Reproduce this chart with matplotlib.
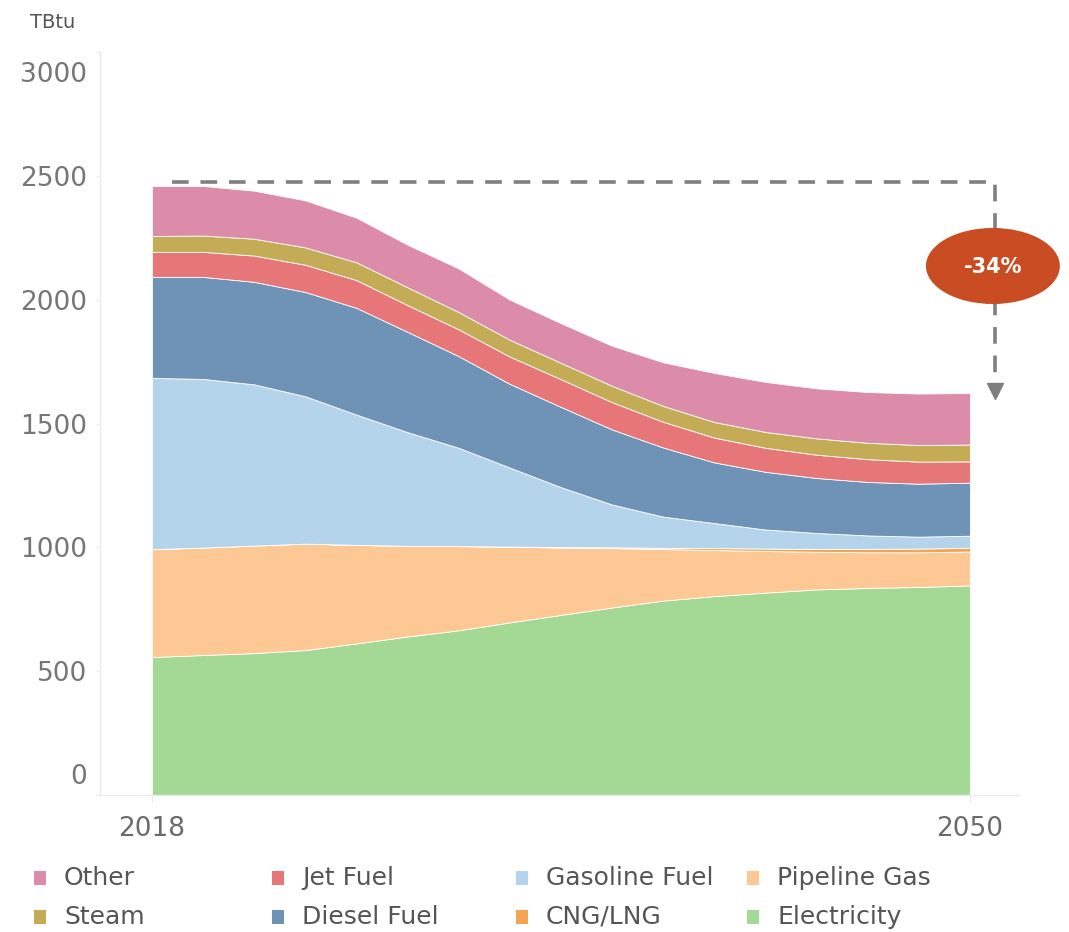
import matplotlib
matplotlib.use('Agg')
import matplotlib.pyplot as plt
import matplotlib.patches as patches
from matplotlib.transforms import ScaledTranslation
import numpy as np

years = list(range(2018, 2051, 2))

electricity = [557, 565, 573, 585, 612, 640, 665, 697, 727, 757, 785, 803, 817, 830, 836, 840, 846]
pipeline_gas = [436, 434, 434, 430, 398, 366, 340, 306, 272, 240, 208, 186, 168, 152, 144, 140, 137]
cng_lng = [0, 0, 0, 0, 0, 0, 0, 0, 2, 3, 5, 8, 10, 12, 14, 15, 15]
gasoline_fuel = [691, 681, 651, 595, 526, 459, 397, 319, 242, 173, 126, 101, 77, 64, 54, 48, 49]
diesel_fuel = [408, 412, 414, 421, 431, 405, 370, 338, 324, 303, 279, 245, 233, 222, 216, 214, 214]
jet_fuel = [101, 101, 106, 110, 112, 108, 108, 110, 112, 110, 104, 100, 97, 94, 92, 89, 86]
steam = [64, 66, 68, 70, 72, 72, 70, 68, 66, 66, 64, 63, 64, 66, 66, 67, 68]
other = [202, 200, 194, 190, 180, 172, 176, 162, 160, 162, 176, 198, 202, 202, 205, 208, 208]

series_names = ['Electricity', 'Pipeline Gas', 'CNG/LNG', 'Gasoline Fuel',
                'Diesel Fuel', 'Jet Fuel', 'Steam', 'Other']
series_colors = ['#a3d995', '#fec895', '#f5a455', '#b3d4ea',
                 '#6f93b7', '#e77678', '#c4ab55', '#dc8ca9']

y_ticks = [0, 500, 1000, 1500, 2000, 2500, 3000]
x_ticks = [2018, 2050]
change_label = '-34%'

legend_rows = [['Other', 'Jet Fuel', 'Gasoline Fuel', 'Pipeline Gas'],
               ['Steam', 'Diesel Fuel', 'CNG/LNG', 'Electricity']]

W, H = 1069, 932
plt.rcParams['lines.scale_dashes'] = False

fig = plt.figure(figsize=(W / 100, H / 100), dpi=100)
ax = fig.add_axes([100 / W, 137 / H, 920 / W, 743 / H])

ax.stackplot(years, electricity, pipeline_gas, cng_lng, gasoline_fuel,
             diesel_fuel, jet_fuel, steam, other,
             colors=series_colors, edgecolor='white', linewidth=0.6)

ax.set_xlim(2015.97, 2051.96)
ax.set_ylim(0, 3000)

for side in ['top', 'right']:
    ax.spines[side].set_visible(False)
for side in ['left', 'bottom']:
    ax.spines[side].set_color('#ebebeb')
    ax.spines[side].set_linewidth(1)

ax.set_yticks(y_ticks)
ax.set_yticklabels([str(v) for v in y_ticks])
ax.set_xticks(x_ticks)
ax.set_xticklabels([str(v) for v in x_ticks])
ax.tick_params(axis='y', length=3, width=1, color='#ebebeb', pad=6,
               labelsize=19, labelcolor='#767676')
ax.tick_params(axis='x', length=5, width=1, color='#ebebeb', pad=10,
               labelsize=19, labelcolor='#6b6b6b')

# tableau nudges the end labels inside the axis range
ylabels = ax.get_yticklabels()
ylabels[0].set_transform(ylabels[0].get_transform() + ScaledTranslation(0, 0.21, fig.dpi_scale_trans))
ylabels[-1].set_transform(ylabels[-1].get_transform() + ScaledTranslation(0, -0.20, fig.dpi_scale_trans))

fig.text(30 / W, 1 - 22 / H, 'TBtu', fontsize=14, color='#555555', va='center', ha='left')

# change annotation
totals = np.sum([electricity, pipeline_gas, cng_lng, gasoline_fuel,
                 diesel_fuel, jet_fuel, steam, other], axis=0)
line_y = totals[0] + 15
corner_x = years[-1] + 0.98
ax.plot([years[0] + 0.8, corner_x, corner_x], [line_y, line_y, totals[-1] + 40],
        color='#7f7f7f', lw=2.6, dashes=(12, 8.5), clip_on=False, zorder=4)
ax.plot(corner_x, totals[-1] + 7, marker='v', ms=11.5, color='#7f7f7f',
        clip_on=False, zorder=4)
ell = patches.Ellipse((corner_x - 0.08, 2136), width=5.24, height=307,
                      facecolor='#c94c22', edgecolor='none', clip_on=False, zorder=5)
ax.add_patch(ell)
ax.text(corner_x - 0.08, 2130, change_label, color='white', fontsize=15,
        fontweight='bold', ha='center', va='center', zorder=6)

# legend drawn by hand to keep tableau column positions
color_of = dict(zip(series_names, series_colors))
col_x = [34, 272, 516, 747]
row_y = [878, 917]
for r, row in enumerate(legend_rows):
    for c, name in enumerate(row):
        x0 = col_x[c]
        y0 = row_y[r]
        fig.add_artist(patches.Rectangle((x0 / W, 1 - (y0 + 7) / H), 12 / W, 14 / H,
                                         transform=fig.transFigure,
                                         facecolor=color_of[name], edgecolor='none'))
        fig.text((x0 + 30) / W, 1 - y0 / H, name, fontsize=18, color='#555555',
                 va='center', ha='left')

fig.savefig('out.png', dpi=100)
